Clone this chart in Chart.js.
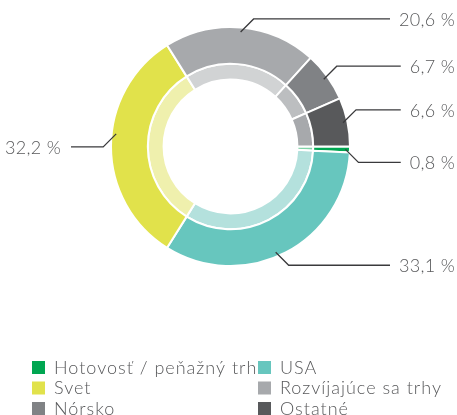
<!DOCTYPE html>
<html>
<head>
<meta charset="utf-8">
<script src="https://cdn.jsdelivr.net/npm/chart.js@4.4.1/dist/chart.umd.min.js"></script>
<style>
    html, body { margin: 0; padding: 0; background: #fff; }
    #wrap { width: 457px; height: 415px; }
</style>
</head>
<body>
<div id="wrap"><canvas id="allocationChart" width="457" height="415"></canvas></div>
<script>
// portfolio split, in percent
const categories = ['Hotovosť / peňažný trh', 'USA', 'Svet', 'Rozvíjajúce sa trhy', 'Nórsko', 'Ostatné'];
const shares = [0.8, 33.1, 32.2, 20.6, 6.7, 6.6];
const shareLabels = ['0,8 %', '33,1 %', '32,2 %', '20,6 %', '6,7 %', '6,6 %'];
const outerColors = ['#00a651', '#67c6be', '#e1e24b', '#a7a9ac', '#808285', '#58595b'];
const innerColors = ['#80d3a8', '#b4e1dd', '#eff0ad', '#d1d3d4', '#bcbec0', '#a7a9ac'];

const textColor = '#58595b';
const fontFamily = 'Lato, "Open Sans", sans-serif';

// leader lines + value labels around the outer ring
const leaderLabels = {
    id: 'leaderLabels',
    afterDatasetsDraw(chart, args, opts) {
        const meta = chart.getDatasetMeta(0);
        const ctx = chart.ctx;
        ctx.save();
        ctx.font = `300 18px ${fontFamily}`;
        ctx.letterSpacing = '0.3px';
        ctx.fillStyle = textColor;
        ctx.strokeStyle = '#3a3a3c';
        ctx.lineWidth = 1.3;
        meta.data.forEach((arc, i) => {
            const { x, y, startAngle, endAngle, outerRadius } =
                arc.getProps(['x', 'y', 'startAngle', 'endAngle', 'outerRadius'], true);
            const mid = (startAngle + endAngle) / 2 + (opts.angleShift[i] || 0) * Math.PI / 180;
            const r = outerRadius - opts.inset;
            const ax = x + Math.cos(mid) * r;
            const ay = y + Math.sin(mid) * r;
            const right = ax > x;
            const up = ay < y - 20;
            const ex = ax + (right ? 13 : -13);
            const ey = ay + (up ? -13 : 13);
            const text = shareLabels[i];
            const w = ctx.measureText(text).width;
            const lineEnd = right ? opts.rightEdge - w - 9 : opts.leftEdge + w + 10;

            ctx.beginPath();
            ctx.moveTo(ax, ay);
            ctx.lineTo(ex, ey);
            ctx.lineTo(lineEnd, ey);
            ctx.stroke();

            ctx.textAlign = right ? 'right' : 'left';
            ctx.textBaseline = 'middle';
            ctx.fillText(text, right ? opts.rightEdge : opts.leftEdge, ey + 1);
        });
        ctx.restore();
    }
};

// two column legend under the doughnut
const gridLegend = {
    id: 'gridLegend',
    afterDraw(chart, args, opts) {
        const ctx = chart.ctx;
        const colors = chart.data.datasets[0].backgroundColor;
        ctx.save();
        ctx.font = `300 18px ${fontFamily}`;
        ctx.letterSpacing = '1px';
        ctx.textAlign = 'left';
        ctx.textBaseline = 'alphabetic';
        chart.data.labels.forEach((label, i) => {
            const col = i % 2;
            const row = Math.floor(i / 2);
            const bx = opts.columns[col];
            const base = opts.firstBaseline + row * opts.rowHeight;
            ctx.fillStyle = colors[i];
            ctx.fillRect(bx, base - 12.5, 13, 13);
            ctx.fillStyle = textColor;
            ctx.fillText(label, bx + 22, base);
        });
        ctx.restore();
    }
};

new Chart(document.getElementById('allocationChart'), {
    type: 'doughnut',
    data: {
        labels: categories,
        datasets: [
            {
                data: shares,
                backgroundColor: outerColors,
                borderColor: '#ffffff',
                borderWidth: 2,
                weight: 7
            },
            {
                data: shares,
                backgroundColor: innerColors,
                borderColor: '#ffffff',
                borderWidth: 2,
                weight: 3
            }
        ]
    },
    options: {
        responsive: false,
        animation: false,
        rotation: 90,
        cutout: '56%',
        layout: {
            padding: { top: 26, bottom: 148, left: 4, right: 0 }
        },
        plugins: {
            legend: { display: false },
            tooltip: { enabled: false },
            leaderLabels: {
                inset: 4.5,
                angleShift: [0, 4.4, 6.3, 0, 0, 0],
                rightEdge: 455,
                leftEdge: 5
            },
            gridLegend: {
                columns: [32, 258],
                firstBaseline: 373.5,
                rowHeight: 20.5
            }
        }
    },
    plugins: [leaderLabels, gridLegend]
});
</script>
</body>
</html>
